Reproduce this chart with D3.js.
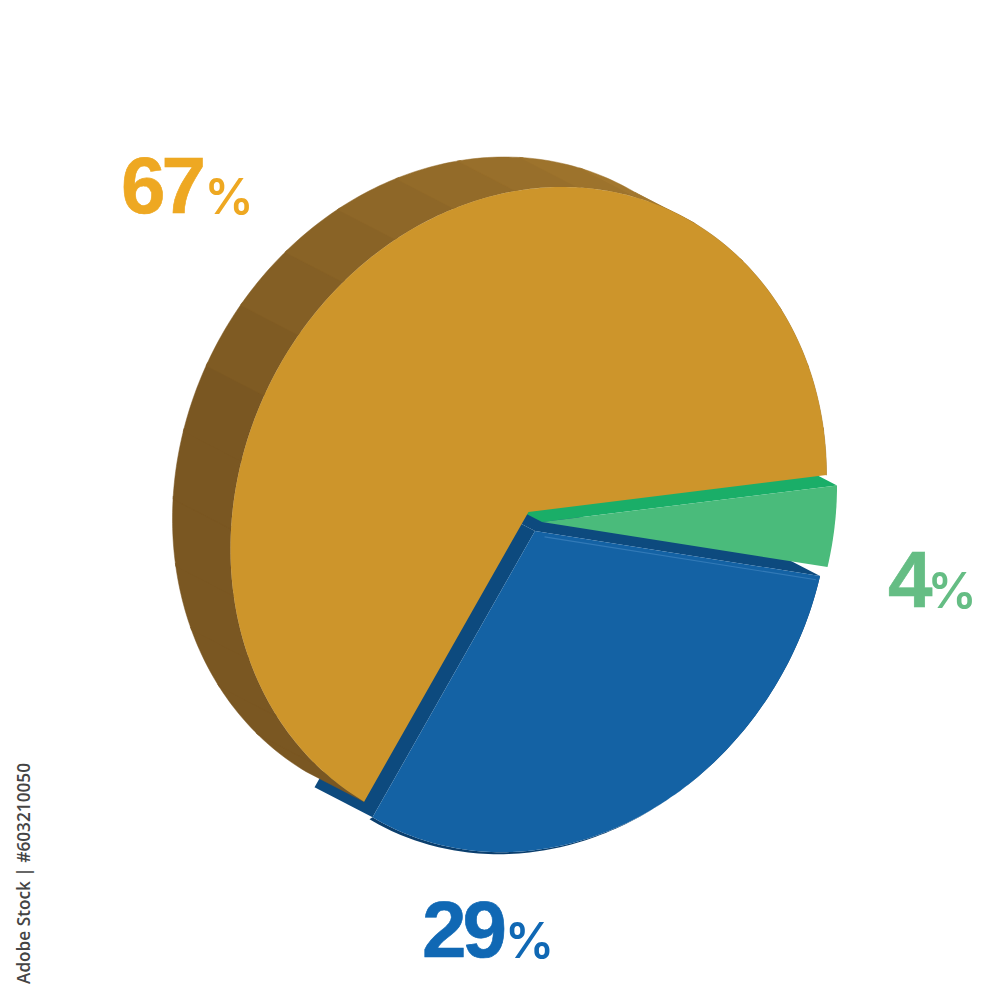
<!DOCTYPE html>
<html>
<head>
<meta charset="utf-8">
<script src="https://cdn.jsdelivr.net/npm/d3@7"></script>
<style>html,body{margin:0;padding:0;background:#fff}svg{display:block}</style>
</head>
<body>
<svg id="chart" width="1000" height="1000"></svg>
<script>
const categories = ["green", "blue", "gold"];
const labelValues = [4, 29, 67];
const wedgeValues = [4.05, 30.25, 65.7];

// Styling and layout
const faceColors = {green: "#4abb7b", blue: "#1462a4", gold: "#cd952b"};
const cutColors = {green: "#1aae68", blue: "#0d4a7e", gold: "#8a6326"};
const labelColors = {green: "#65bd84", blue: "#1068b4", gold: "#eea822"};
const apex = {green: [542, 522], blue: [535, 531], gold: [528.5, 512]};
const radiusOf = {green: 297, blue: 296.5, gold: 300};
const labelPos = {green: [888, 607, 927.5], blue: [422, 957, 505], gold: [121, 213, 204.5]};
const depth = [-58, -30];
const R = 300;
// oblique projection of the pie disc onto the page
const P = {a: 298 / R, b: -36.9 / R, d: 322.9 / R};

const svg = d3.select("#chart");
const deg = Math.PI / 180;
const pie = d3.pie().sort(null).value(d => d.v).startAngle(90 * deg).endAngle(450 * deg);
const arcs = pie(categories.map((c, i) => ({c, v: wedgeValues[i], label: labelValues[i]})));
const byName = Object.fromEntries(arcs.map(a => [a.data.c, a]));
const line = d3.line();

const proj = (c, ang, r = radiusOf[c], shift = [0, 0]) => {
  const [u, v] = d3.pointRadial(ang, r);
  return [apex[c][0] + P.a * u + shift[0], apex[c][1] + P.b * u + P.d * v + shift[1]];
};
const arcPts = (c, a0, a1) => {
  const n = Math.max(2, Math.ceil((a1 - a0) / (1 * deg)));
  return d3.range(n + 1).map(i => a0 + (a1 - a0) * i / n);
};
const facePath = a => {
  const c = a.data.c;
  return line([proj(c, 0, 0), ...arcPts(c, a.startAngle, a.endAngle).map(t => proj(c, t))]) + "Z";
};
const rimPath = (c, a0, a1, shift = depth) => {
  const ts = arcPts(c, a0, a1);
  return line([...ts.map(t => proj(c, t)), ...ts.slice().reverse().map(t => proj(c, t, radiusOf[c], shift))]) + "Z";
};
const cutPath = (c, ang, shift = depth) =>
  line([proj(c, 0, 0), proj(c, ang), proj(c, ang, radiusOf[c], shift), proj(c, 0, 0, shift)]) + "Z";

// Blue: rim, both cut walls, face
const blue = byName.blue, green = byName.green, gold = byName.gold;
const gBlue = svg.append("g");
gBlue.append("path").attr("d", rimPath("blue", blue.startAngle, blue.endAngle, [-3, 2])).attr("fill", "#0b3f6e");
gBlue.append("path").attr("d", cutPath("blue", blue.startAngle)).attr("fill", cutColors.blue);
gBlue.append("path").attr("d", cutPath("blue", blue.endAngle)).attr("fill", cutColors.blue);
gBlue.append("path").attr("d", facePath(blue)).attr("fill", faceColors.blue);
// soft highlight just inside the blue upper edge
gBlue.append("path")
  .attr("d", line([proj("blue", blue.startAngle, 12, [-2, 4]), proj("blue", blue.startAngle, radiusOf.blue - 2, [-2, 4])]))
  .attr("stroke", "#3a7fbb").attr("stroke-width", 1.2).attr("fill", "none").attr("opacity", .8);

// Green: upper cut wall, face
const gGreen = svg.append("g");
gGreen.append("path").attr("d", cutPath("green", green.startAngle)).attr("fill", cutColors.green);
gGreen.append("path").attr("d", facePath(green)).attr("fill", faceColors.green);

// Gold: faceted rim, face
const gGold = svg.append("g");
const rimShade = d3.scaleLinear().domain([285 * deg, 385 * deg]).range(["#7a5722", "#a3782e"]).clamp(true);
const facetStep = 12 * deg;
const facets = d3.range(gold.startAngle, gold.endAngle, facetStep);
gGold.selectAll("path.rim").data(facets).join("path").attr("class", "rim")
  .attr("d", t => rimPath("gold", t, Math.min(t + facetStep + .01, gold.endAngle)))
  .attr("fill", t => rimShade(t)).attr("stroke", t => rimShade(t)).attr("stroke-width", .5);
gGold.append("path").attr("d", facePath(gold)).attr("fill", faceColors.gold);

// Percent labels
const labels = svg.append("g");
arcs.forEach(a => {
  const [x, y, px] = labelPos[a.data.c];
  labels.append("text").attr("x", x).attr("y", y).attr("font-size", 80).attr("letter-spacing", -4)
    .attr("font-family", "'Liberation Sans', Arial, sans-serif").attr("font-weight", 700)
    .attr("stroke", labelColors[a.data.c]).attr("stroke-width", .6)
    .attr("fill", labelColors[a.data.c]).text(a.data.label);
  labels.append("text").attr("x", px).attr("y", y + 1).attr("font-size", 49)
    .attr("font-family", "Inter, sans-serif").attr("font-weight", 600)
    .attr("fill", labelColors[a.data.c]).text("%");
});

// Stock credit on the left edge
svg.append("text").attr("transform", "translate(30,984) rotate(-90)")
  .attr("textLength", 221).attr("lengthAdjust", "spacingAndGlyphs")
  .attr("font-family", "'Open Sans', sans-serif").attr("font-weight", 600)
  .attr("font-size", 18).attr("fill", "#444").text("Adobe Stock | #603210050");
</script>
</body>
</html>
